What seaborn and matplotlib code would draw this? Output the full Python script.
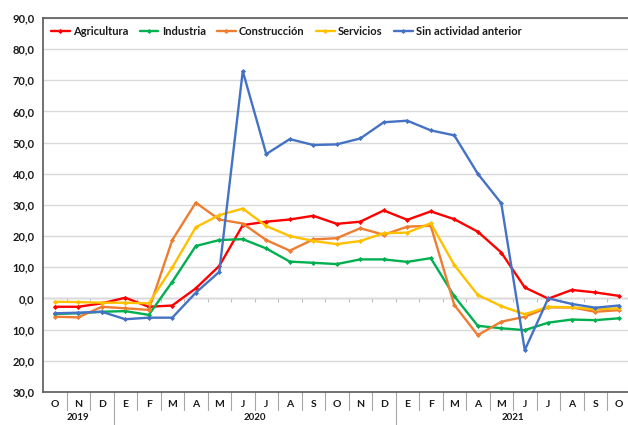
import pandas as pd
import matplotlib
matplotlib.use("Agg")
import matplotlib.pyplot as plt
import seaborn as sns

# --- Data ---
MONTHS = ['O', 'N', 'D',
          'E', 'F', 'M', 'A', 'M', 'J', 'J', 'A', 'S', 'O', 'N', 'D',
          'E', 'F', 'M', 'A', 'M', 'J', 'J', 'A', 'S', 'O']
YEARS = ['2019', '2020', '2021']
YEAR_LENGTHS = [3, 12, 10]

agricultura = [-2.7, -2.7, -1.6, 0.2, -2.7, -2.3, 3.2, 10.4, 23.5, 24.6, 25.3, 26.5, 23.9,
               24.6, 28.2, 25.2, 27.9, 25.4, 21.4, 14.7, 3.5, -0.1, 2.7, 1.9, 0.8]
industria = [-5.0, -4.8, -4.3, -4.1, -5.3, 5.3, 16.8, 18.7, 19.0, 16.0, 11.8, 11.4, 11.0,
             12.5, 12.5, 11.7, 12.9, 0.7, -8.8, -9.6, -10.2, -7.8, -6.8, -7.0, -6.4]
construccion = [-5.9, -6.1, -2.7, -3.2, -3.7, 18.7, 30.7, 25.3, 24.0, 18.7, 15.3, 18.9, 19.3,
                22.5, 20.4, 23.0, 23.3, -2.1, -11.8, -7.5, -5.9, -2.9, -2.9, -4.3, -3.8]
servicios = [-1.1, -1.2, -1.4, -1.4, -1.6, 9.9, 22.8, 26.7, 28.8, 23.2, 20.0, 18.4, 17.4,
             18.4, 20.9, 21.1, 24.1, 10.7, 1.1, -2.5, -5.1, -2.7, -2.9, -3.5, -3.2]
sin_actividad = [-4.8, -4.6, -4.3, -6.7, -6.2, -6.2, 1.8, 8.5, 72.9, 46.3, 51.1, 49.2, 49.4,
                 51.3, 56.5, 57.0, 53.9, 52.3, 40.0, 30.5, -16.6, 0.0, -1.8, -3.0, -2.3]

SERIES = {
    'Agricultura': agricultura,
    'Industria': industria,
    'Construcción': construccion,
    'Servicios': servicios,
    'Sin actividad anterior': sin_actividad,
}
COLORS = {
    'Agricultura': '#ff0000',
    'Industria': '#00b050',
    'Construcción': '#ed7d31',
    'Servicios': '#ffc000',
    'Sin actividad anterior': '#4472c4',
}

# long-form table for seaborn
records = []
for name, values in SERIES.items():
    for i, v in enumerate(values):
        records.append({'idx': i, 'valor': v, 'serie': name})
df = pd.DataFrame(records)

sns.set_theme(style="white")
plt.rcParams['font.family'] = ['Lato', 'DejaVu Sans']
plt.rcParams['font.weight'] = 'bold'

fig = plt.figure(figsize=(6.28, 4.25), dpi=100)
ax = fig.add_axes([0.0685, 0.078, 0.9355, 0.880])

ax.set_ylim(-30, 90)
ax.set_xlim(-0.5, len(MONTHS) - 0.5)
ax.set_yticks(range(-30, 91, 10))
ax.yaxis.grid(True, color='#d9d9d9', linewidth=1.0)
ax.set_axisbelow(True)

sns.lineplot(data=df, x='idx', y='valor', hue='serie', hue_order=list(SERIES),
             palette=COLORS, marker='D', markersize=2.6, markeredgewidth=0,
             linewidth=1.7, sort=False, ax=ax, legend=False)

# y tick labels as shown in the source (no minus sign)
ax.set_yticklabels([f"{abs(v):.1f}".replace('.', ',') for v in range(-30, 91, 10)],
                   fontsize=8, fontweight='bold', color='#1a1a1a')
ax.tick_params(axis='y', length=0, pad=6)

# month labels
ax.set_xticks(range(len(MONTHS)))
ax.set_xticklabels(MONTHS, fontsize=7.5, fontweight='bold', color='#1a1a1a')
ax.tick_params(axis='x', length=0, pad=6)
ax.set_xlabel('')
ax.set_ylabel('')

for side in ['left', 'bottom', 'top']:
    ax.spines[side].set_color('#595959')
    ax.spines[side].set_linewidth(1.2)
ax.spines['right'].set_visible(False)

# zero line with small category ticks
zero_ax = ax.secondary_xaxis(30 / 120)
zero_ax.set_xticks([i - 0.5 for i in range(1, len(MONTHS))])
zero_ax.set_xticklabels([])
zero_ax.tick_params(axis='x', direction='out', length=3, width=0.8, color='#bfbfbf')
zero_ax.spines['bottom'].set_color('#bfbfbf')
zero_ax.spines['bottom'].set_linewidth(1.0)

# dividers between months and years under the axis
trans = ax.get_xaxis_transform()
year_edges = []
acc = 0
for n in YEAR_LENGTHS[:-1]:
    acc += n
    year_edges.append(acc - 0.5)
for i in range(1, len(MONTHS) + 1):
    b = i - 0.5
    low = -0.09 if b in year_edges else -0.048
    ax.plot([b, b], [0, low], transform=trans, color='#a6a6a6', linewidth=0.8, clip_on=False)

# year labels
start = 0
for year, n in zip(YEARS, YEAR_LENGTHS):
    center = start + (n - 1) / 2
    ax.text(center, -0.068, year, transform=trans, ha='center', va='center',
            fontsize=7, fontweight='bold', color='#1a1a1a')
    start += n

# legend
handles = [plt.Line2D([], [], color=COLORS[n], linewidth=1.7, marker='D',
                      markersize=2.6, markeredgewidth=0) for n in SERIES]
leg = ax.legend(handles, list(SERIES), loc='upper left', ncol=5, frameon=False,
                bbox_to_anchor=(0.0, 1.0), handlelength=1.7, handletextpad=0.3,
                columnspacing=1.0, borderaxespad=0.3,
                prop={'size': 8, 'weight': 'bold'})
for t in leg.get_texts():
    t.set_color('#1a1a1a')

fig.savefig('out.png', dpi=100)
